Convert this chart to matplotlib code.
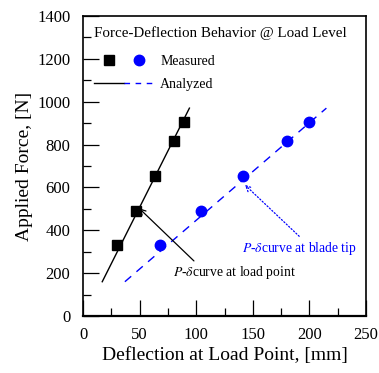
import matplotlib
matplotlib.use('Agg')
import matplotlib.pyplot as plt
from matplotlib.legend_handler import HandlerTuple
from matplotlib.lines import Line2D

plt.rcParams['font.family'] = ['Liberation Serif', 'DejaVu Serif']
plt.rcParams['mathtext.fontset'] = 'stix'

# --- data ---
load_pt_defl = [30, 47, 63.5, 80, 89]
load_pt_force = [330, 490, 653, 815, 905]
tip_defl = [68, 104, 141, 180, 200]
tip_force = [330, 490, 653, 815, 905]

load_fit_x = [17, 94]
load_fit_y = [160, 970]
tip_fit_x = [37, 215]
tip_fit_y = [160, 970]

fig = plt.figure(figsize=(3.79, 3.73), dpi=100)
ax = fig.add_axes([83 / 379, 57 / 373, 283 / 379, 300 / 373])

ax.plot(load_fit_x, load_fit_y, color='black', lw=1.0)
ax.plot(tip_fit_x, tip_fit_y, color='blue', lw=1.0, dashes=(6, 5))
sq, = ax.plot(load_pt_defl, load_pt_force, 's', color='black', ms=6.5, ls='none')
ci, = ax.plot(tip_defl, tip_force, 'o', color='blue', ms=7.5, ls='none')

ax.set_xlim(0, 250)
ax.set_ylim(0, 1400)
ax.set_xticks([0, 50, 100, 150, 200, 250])
ax.set_xticks([25, 75, 125, 175, 225], minor=True)
ax.set_yticks(range(0, 1401, 200))
ax.set_yticks(range(100, 1400, 200), minor=True)
ax.tick_params(which='both', direction='in', labelsize=12, top=False, right=False)
ax.tick_params(which='major', length=11.5, width=0.9)
ax.tick_params(which='minor', length=6, width=0.9)
ax.tick_params(axis='x', pad=8)
ax.tick_params(axis='y', pad=9)
for s in ax.spines.values():
    s.set_linewidth(1.2)
ax.spines['bottom'].set_linewidth(1.6)

ax.set_xlabel('Deflection at Load Point, [mm]', fontsize=14, labelpad=3)
ax.set_ylabel('Applied Force, [N]', fontsize=14, labelpad=3)

# legend
ln_k = Line2D([], [], color='black', lw=1.0)
ln_b = Line2D([], [], color='blue', lw=1.0, dashes=(4, 4))
leg = ax.legend([(sq, ci), (ln_k, ln_b)], ['Measured', 'Analyzed'],
                handler_map={tuple: HandlerTuple(ndivide=None, pad=0.0)},
                loc='upper left', bbox_to_anchor=(0.01, 0.995), frameon=False,
                fontsize=10, handlelength=4.3, handletextpad=0.45,
                labelspacing=0.75, borderaxespad=0.2,
                title='Force-Deflection Behavior @ Load Level',
                title_fontsize=10.8)
leg._legend_box.align = 'left'
leg._legend_box.sep = 11

# annotations
ax.annotate('', xy=(49.5, 503), xytext=(98, 257),
            arrowprops=dict(arrowstyle='->', color='black', lw=0.9,
                            shrinkA=0, shrinkB=0))
ax.text(79.5, 205, '$P$-$\\delta$curve at load point', fontsize=9.8, color='black',
        ha='left', va='center')
ax.annotate('', xy=(143, 612), xytext=(191, 372),
            arrowprops=dict(arrowstyle='->', color='blue', lw=0.9, ls=':',
                            shrinkA=0, shrinkB=0))
ax.text(140.5, 313, '$P$-$\\delta$curve at blade tip', fontsize=9.8, color='blue',
        ha='left', va='center')

fig.savefig('out.png', dpi=100)
